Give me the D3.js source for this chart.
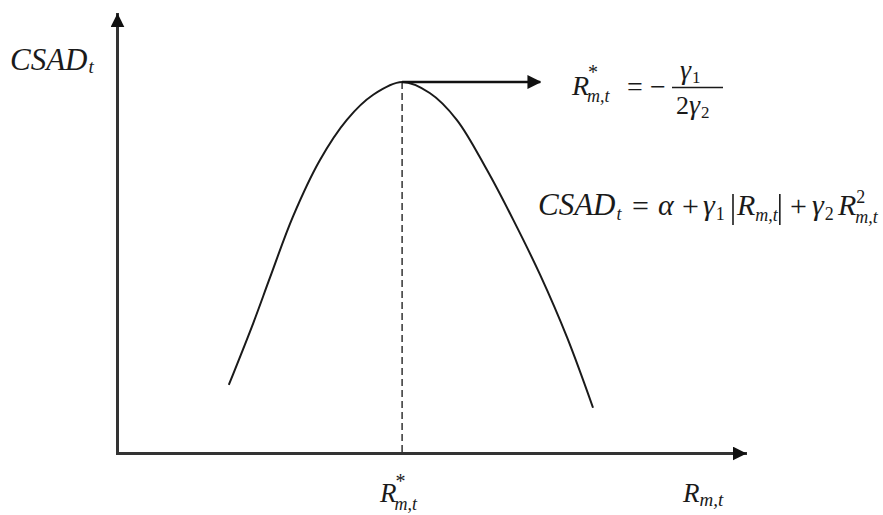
<!DOCTYPE html>
<html>
<head>
<meta charset="utf-8">
<script src="https://cdn.jsdelivr.net/npm/d3@7"></script>
<style>
  body { margin: 0; background: #fff; }
  text { font-family: 'Liberation Serif', 'DejaVu Serif', serif; fill: #1a1a1a; }
</style>
</head>
<body>
<div id="chart"></div>
<script>
// curve (arbitrary units, no ticks on the original)
const curveR = [1.78, 2.17, 2.44, 2.80, 3.23, 3.66, 4.08, 4.54, 4.98, 5.41, 5.89, 6.31, 6.74, 7.17, 7.58]
const curveCSAD = [1.55, 2.96, 4.01, 5.38, 6.67, 7.59, 8.16, 8.45, 8.20, 7.59, 6.45, 5.31, 4.05, 2.62, 1.03]
const peakR = 4.54
const peakCSAD = 8.45
const arrowEndR = 6.74

const WIDTH = 883
const HEIGHT = 515

const svg = d3.select('#chart').append('svg')
  .attr('width', WIDTH)
  .attr('height', HEIGHT)

const x = d3.scaleLinear().domain([0, 10]).range([117, 745])
const y = d3.scaleLinear().domain([0, 10]).range([453, 14])

// arrow heads
const defs = svg.append('defs')
defs.append('marker')
  .attr('id', 'head')
  .attr('viewBox', '0 0 12 12')
  .attr('refX', 11)
  .attr('refY', 6)
  .attr('markerUnits', 'userSpaceOnUse')
  .attr('markerWidth', 14)
  .attr('markerHeight', 14)
  .attr('orient', 'auto')
  .append('path')
  .attr('d', 'M0,0L12,6L0,12Z')
  .attr('fill', '#111')

// axes: only the domain line, no ticks
const xAxis = svg.append('g')
  .attr('transform', `translate(0,${y(0)})`)
  .call(d3.axisBottom(x).ticks(0).tickSizeOuter(0))
const yAxis = svg.append('g')
  .attr('transform', `translate(${x(0)},0)`)
  .call(d3.axisLeft(y).ticks(0).tickSizeOuter(0))

;[xAxis, yAxis].forEach(a => {
  a.select('.domain')
    .attr('stroke', '#333')
    .attr('stroke-width', 3)
    .attr('stroke-linecap', 'square')
    .attr('marker-end', 'url(#head)')
})

// dashed drop line at the peak
svg.append('line')
  .attr('x1', x(peakR))
  .attr('x2', x(peakR))
  .attr('y1', y(peakCSAD))
  .attr('y2', y(0))
  .attr('stroke', '#333')
  .attr('stroke-width', 1.5)
  .attr('stroke-dasharray', '7,4')

// the curve
const pts = curveR.map((r, i) => [r, curveCSAD[i]])
const line = d3.line()
  .x(d => x(d[0]))
  .y(d => y(d[1]))
  .curve(d3.curveCatmullRom.alpha(0.5))

svg.append('path')
  .datum(pts)
  .attr('d', line)
  .attr('fill', 'none')
  .attr('stroke', '#1a1a1a')
  .attr('stroke-width', 2)

// arrow from the peak
svg.append('line')
  .attr('x1', x(peakR))
  .attr('x2', x(arrowEndR))
  .attr('y1', y(peakCSAD))
  .attr('y2', y(peakCSAD))
  .attr('stroke', '#111')
  .attr('stroke-width', 2.5)
  .attr('marker-end', 'url(#head)')

// text helper, returns the right edge of what it drew
function put(px, py, str, size, italic = true, anchor = 'start') {
  const t = svg.append('text')
    .attr('x', px)
    .attr('y', py)
    .attr('text-anchor', anchor)
    .style('font-size', size + 'px')
    .style('font-style', italic ? 'italic' : 'normal')
    .text(str)
  return px + t.node().getComputedTextLength()
}

function bar(px, y1, y2) {
  svg.append('line').attr('x1', px).attr('x2', px).attr('y1', y1).attr('y2', y2)
    .attr('stroke', '#1a1a1a').attr('stroke-width', 1.6)
}

let e

// axis labels
e = put(10, 70, 'CSAD', 31)
put(e + 1, 73, 't', 19)
e = put(683, 502, 'R', 27)
put(e, 506, 'm,t', 19)
e = put(380, 502, 'R', 27)
put(e - 1, 488, '*', 20, false)
put(e - 2, 510, 'm,t', 18)

// R* = -gamma1 / (2 gamma2)
e = put(572, 95, 'R', 28)
put(e - 1, 79, '*', 20, false)
put(e - 2, 102, 'm,t', 18)
put(627, 96, '=', 28, false)
put(650, 96, '\u2212', 28, false)
svg.append('line')
  .attr('x1', 672).attr('x2', 723)
  .attr('y1', 87.5).attr('y2', 87.5)
  .attr('stroke', '#1a1a1a').attr('stroke-width', 1.6)
e = put(680, 79, '\u03b3', 28)
put(e + 1, 83, '1', 17, false)
e = put(676, 114, '2', 26, false)
e = put(e, 114, '\u03b3', 28)
put(e + 1, 118, '2', 17, false)

// CSAD_t = alpha + gamma1 |R| + gamma2 R^2
e = put(538, 215, 'CSAD', 31)
put(e + 1, 220, 't', 18)
put(632, 216, '=', 30, false)
put(658, 215, '\u03b1', 30)
put(682, 216, '+', 30, false)
e = put(703, 215, '\u03b3', 30)
put(e + 1, 220, '1', 18, false)
bar(733, 194, 225)
e = put(737, 215, 'R', 30)
e = put(e, 221, 'm,t', 18)
bar(e + 2, 194, 225)
put(790, 216, '+', 30, false)
e = put(812, 215, '\u03b3', 30)
put(e + 1, 220, '2', 18, false)
e = put(838, 215, 'R', 30)
put(e, 203, '2', 18, false)
put(e - 1, 223, 'm,t', 18)
</script>
</body>
</html>
